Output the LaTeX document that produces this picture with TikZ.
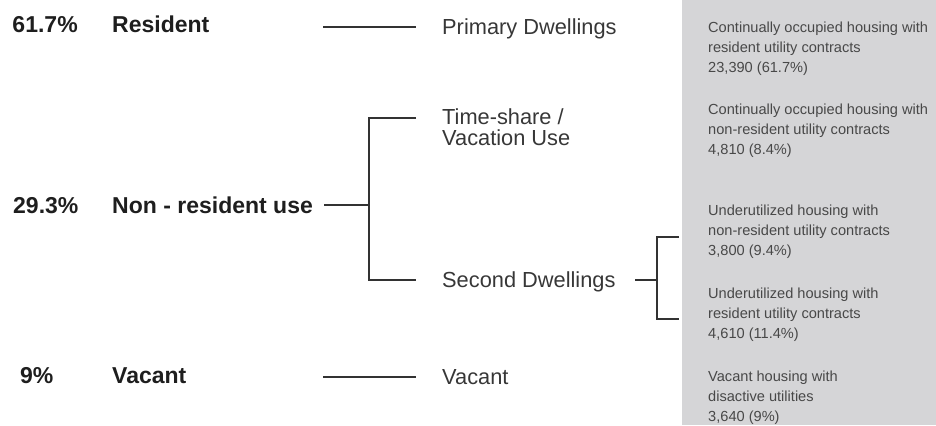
\documentclass[tikz,border=0pt]{standalone}
\usepackage{fontspec}
\setmainfont{Liberation Sans}
\definecolor{panel}{RGB}{213,213,215}
\definecolor{boldtext}{RGB}{30,30,30}
\definecolor{midtext}{RGB}{55,55,55}
\definecolor{smalltext}{RGB}{72,72,72}
\definecolor{linecol}{RGB}{50,50,50}
\newcommand{\notelines}[1]{\parbox[t]{240bp}{#1}}
\tikzset{
  big/.style={anchor=base west, inner sep=0pt, text=boldtext, font=\fontsize{23bp}{26bp}\selectfont\bfseries},
  mid/.style={anchor=base west, inner sep=0pt, text=midtext, font=\fontsize{21.8bp}{21bp}\selectfont},
  note/.style={anchor=base west, inner sep=0pt, text=smalltext, font=\fontsize{14.6bp}{20bp}\selectfont},
  conn/.style={draw=linecol, line width=1.1bp},
}
\begin{document}
\begin{tikzpicture}[x=1bp,y=-1bp]
\useasboundingbox (0,0) rectangle (936,425);
\fill[panel] (682,0) rectangle (936,425);

% left column
\node[big] (p1) at (12.3,32.5) {61.7\%};
\node[big] (r1) at (112,32.5) {Resident};
\node[big] (p2) at (13,213.5) {29.3\%};
\node[big] (r2) at (112,213.5) {Non - resident use};
\node[big] (p3) at (20,383.5) {9\%};
\node[big] (r3) at (112,383.5) {Vacant};

% middle column
\node[mid] (m1) at (442,34.5) {Primary Dwellings};
\node[mid] (m2) at (442,124) {\notelines{Time-share /\\Vacation Use}};
\node[mid] (m3) at (442,287.5) {Second Dwellings};
\node[mid] (m4) at (442,384.5) {Vacant};

% right column
\node[note] (n1) at (708,32.5) {\notelines{Continually occupied housing with\\resident utility contracts\\23,390 (61.7\%)}};
\node[note] (n2) at (708,114) {\notelines{Continually occupied housing with\\non-resident utility contracts\\4,810 (8.4\%)}};
\node[note] (n3) at (708,215) {\notelines{Underutilized housing with\\non-resident utility contracts\\3,800 (9.4\%)}};
\node[note] (n4) at (708,298) {\notelines{Underutilized housing with\\resident utility contracts\\4,610 (11.4\%)}};
\node[note] (n5) at (708,381) {\notelines{Vacant housing with\\disactive utilities\\3,640 (9\%)}};

% connector points
\coordinate (a1) at (323,27);
\coordinate (b1) at (416,27);
\coordinate (a2) at (324,205);
\coordinate (v2) at (369,205);
\coordinate (t2) at (416,118);
\coordinate (s2) at (416,280);
\coordinate (a3) at (323,377);
\coordinate (b3) at (416,377);
\coordinate (a4) at (635,280);
\coordinate (v4) at (657,280);
\coordinate (t4) at (679,237);
\coordinate (s4) at (679,319);

\draw[conn] (a1) -- (b1);
\draw[conn] (a2) -- (v2);
\draw[conn] (t2) -- (v2 |- t2) -- (v2 |- s2) -- (s2);
\draw[conn] (a3) -- (b3);
\draw[conn] (a4) -- (v4);
\draw[conn] (t4) -- (v4 |- t4) -- (v4 |- s4) -- (s4);
\end{tikzpicture}
\end{document}
